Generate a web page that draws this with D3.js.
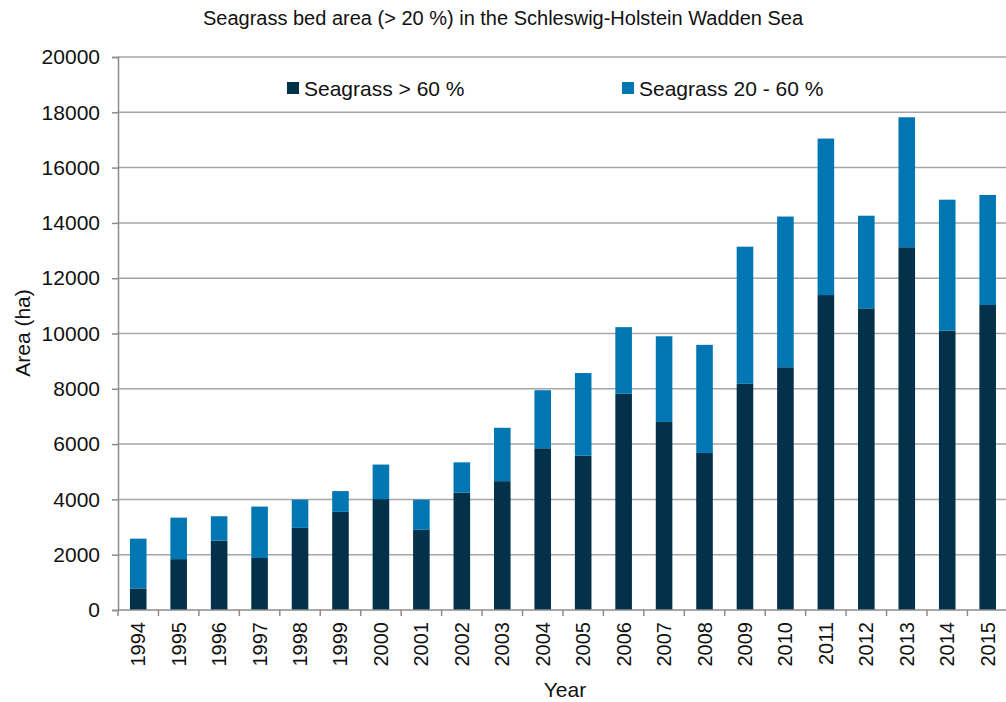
<!DOCTYPE html>
<html lang="en">
<head>
<meta charset="UTF-8" />
<title>Seagrass bed area</title>
<script src="https://d3js.org/d3.v7.min.js"></script>
<style>
  body { margin: 0; background: #fff; }
  svg { display: block; font-family: "Liberation Sans", Arial, sans-serif; }
</style>
</head>
<body>
<svg id="chart" width="1006" height="702"></svg>
<script>
const years = ['1994','1995','1996','1997','1998','1999','2000','2001','2002','2003','2004',
               '2005','2006','2007','2008','2009','2010','2011','2012','2013','2014','2015'];
// Seagrass > 60 % (ha)
const dense = [780, 1840, 2510, 1880, 2970, 3550, 4010, 2900, 4240, 4660, 5850,
               5580, 7820, 6800, 5680, 8180, 8780, 11390, 10910, 13120, 10100, 11030];
// total (> 20 %), the 20 - 60 % part is total minus dense
const total = [2580, 3340, 3390, 3740, 3990, 4300, 5260, 3990, 5340, 6590, 7950,
               8570, 10230, 9900, 9590, 13140, 14230, 17050, 14260, 17820, 14840, 15010];
const sparse = total.map((t, i) => t - dense[i]);
const yTicks = [0, 2000, 4000, 6000, 8000, 10000, 12000, 14000, 16000, 18000, 20000];
const seriesNames = ['Seagrass > 60 %', 'Seagrass 20 - 60 %'];
const colors = ['#023149', '#0077b3'];

const svg = d3.select('#chart');
const plotLeft = 118, plotTop = 57, plotBottom = 610;
const bandStep = 40.45;

const x = d3.scaleBand().domain(years).range([plotLeft, plotLeft + bandStep * years.length]).paddingInner(0.59).paddingOuter(0.295);
const y = d3.scaleLinear().domain([0, 20000]).range([plotBottom, plotTop]);

// title
svg.append('text').attr('x', 503).attr('y', 25).attr('text-anchor', 'middle')
  .attr('font-size', 20).attr('fill', '#111')
  .text('Seagrass bed area (> 20 %) in the Schleswig-Holstein Wadden Sea');

// gridlines
svg.append('g').selectAll('line').data(yTicks.filter(d => d > 0)).join('line')
  .attr('x1', plotLeft).attr('x2', 1006)
  .attr('y1', d => y(d)).attr('y2', d => y(d))
  .attr('stroke', '#a6a6a6').attr('stroke-width', 1.5);

// y axis
const yAxis = svg.append('g').attr('transform', `translate(${plotLeft},0)`)
  .call(d3.axisLeft(y).tickValues(yTicks).tickSize(6).tickPadding(12).tickFormat(d3.format('d')));
yAxis.select('.domain').attr('stroke', '#8c8c8c').attr('stroke-width', 1.5);
yAxis.selectAll('.tick line').attr('stroke', '#8c8c8c').attr('stroke-width', 1.5);
yAxis.selectAll('.tick text').attr('font-size', 21).attr('fill', '#111').attr('font-family', '"Liberation Sans", Arial, sans-serif');

// bars
const stackData = years.map((yr, i) => ({ year: yr, dense: dense[i], sparse: sparse[i] }));
const stacked = d3.stack().keys(['dense', 'sparse'])(stackData);
svg.append('g').selectAll('g').data(stacked).join('g')
  .attr('fill', (d, i) => colors[i])
  .selectAll('rect').data(d => d).join('rect')
  .attr('x', d => x(d.data.year))
  .attr('width', x.bandwidth())
  .attr('y', d => y(d[1]))
  .attr('height', d => y(d[0]) - y(d[1]));

// x axis
const xAxis = svg.append('g').attr('transform', `translate(0,${plotBottom})`);
xAxis.append('line').attr('x1', plotLeft).attr('x2', 1006).attr('y1', 0).attr('y2', 0)
  .attr('stroke', '#8c8c8c').attr('stroke-width', 1.5);
xAxis.selectAll('line.tk').data(d3.range(years.length + 1)).join('line').attr('class', 'tk')
  .attr('x1', i => plotLeft + i * bandStep).attr('x2', i => plotLeft + i * bandStep)
  .attr('y1', 0).attr('y2', 6)
  .attr('stroke', '#8c8c8c').attr('stroke-width', 1.5);
xAxis.selectAll('text').data(years).join('text')
  .attr('transform', d => `translate(${x(d) + x.bandwidth() / 2 + 7},12) rotate(-90)`)
  .attr('text-anchor', 'end').attr('font-size', 20).attr('fill', '#111')
  .text(d => d);

// axis titles
svg.append('text').attr('transform', 'translate(30,333) rotate(-90)').attr('text-anchor', 'middle')
  .attr('font-size', 21).attr('fill', '#111').text('Area (ha)');
svg.append('text').attr('x', 565).attr('y', 697).attr('text-anchor', 'middle')
  .attr('font-size', 21).attr('fill', '#111').text('Year');

// legend
const legendX = [287, 622];
const legend = svg.append('g').selectAll('g').data(seriesNames).join('g')
  .attr('transform', (d, i) => `translate(${legendX[i]},82)`);
legend.append('rect').attr('width', 12).attr('height', 12).attr('fill', (d, i) => colors[i]);
legend.append('text').attr('x', 17).attr('y', 14).attr('font-size', 21).attr('fill', '#111').text(d => d);
</script>
</body>
</html>
